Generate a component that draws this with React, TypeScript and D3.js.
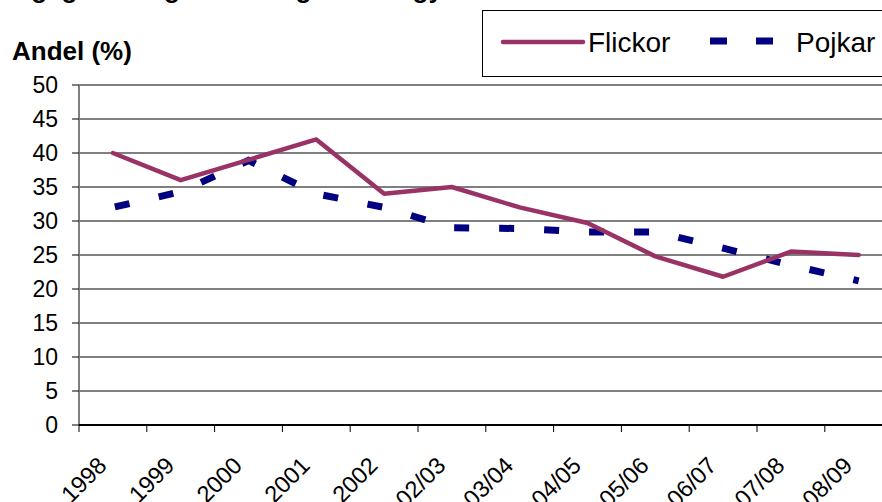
import { useEffect, useRef } from "react";
import * as d3 from "d3";

const W = 882;
const H = 502;

const years = ["1998", "1999", "2000", "2001", "2002", "02/03", "03/04", "04/05", "05/06", "06/07", "07/08", "08/09"];
const flickor = [40, 36, 39, 42, 34, 35, 32, 29.7, 24.8, 21.8, 25.5, 25.0];
const pojkar = [32, 34.3, 38.9, 34, 32, 29, 28.9, 28.4, 28.4, 26, 23.5, 21.2];
const yTicks = [0, 5, 10, 15, 20, 25, 30, 35, 40, 45, 50];

const FLICKOR_COLOR = "#993366";
const POJKAR_COLOR = "#000080";
const FONT = "Arial, 'Liberation Sans', sans-serif";

export default function App() {
  const ref = useRef<SVGSVGElement>(null);

  useEffect(() => {
    const el = ref.current;
    if (!el) return;
    const svg = d3.select(el);
    svg.selectAll("*").remove();

    const left = 79;
    const step = 67.8;
    const x = d3
      .scaleBand<string>()
      .domain(years)
      .range([left, left + step * years.length])
      .padding(0);
    const y = d3.scaleLinear().domain([0, 50]).range([425, 85]);

    // title, cut by the top edge (only descenders show)
    svg
      .append("text")
      .attr("x", -2)
      .attr("y", -2)
      .attr("font-family", FONT)
      .attr("font-weight", 700)
      .attr("font-size", 26)
      .text("Daglig rökning bland ungdomar i gymnasiet");

    // gridlines
    svg
      .append("g")
      .selectAll("line")
      .data(yTicks.filter((d) => d > 0 && d < 50))
      .join("line")
      .attr("x1", left)
      .attr("x2", W)
      .attr("y1", (d) => y(d))
      .attr("y2", (d) => y(d))
      .attr("stroke", "#000")
      .attr("stroke-width", 1.2);

    // plot top border
    svg
      .append("line")
      .attr("x1", left)
      .attr("x2", W)
      .attr("y1", y(50))
      .attr("y2", y(50))
      .attr("stroke", "#808080")
      .attr("stroke-width", 2);

    // y axis
    const yAxis = svg.append("g").attr("transform", `translate(${left},0)`);
    yAxis
      .append("line")
      .attr("y1", y(50))
      .attr("y2", y(0))
      .attr("stroke", "#808080")
      .attr("stroke-width", 2);
    yAxis
      .selectAll("line.tick")
      .data(yTicks)
      .join("line")
      .attr("class", "tick")
      .attr("x1", -7)
      .attr("x2", 0)
      .attr("y1", (d) => y(d))
      .attr("y2", (d) => y(d))
      .attr("stroke", "#000");
    yAxis
      .selectAll("text")
      .data(yTicks)
      .join("text")
      .attr("x", -21)
      .attr("y", (d) => y(d))
      .attr("dy", "0.36em")
      .attr("text-anchor", "end")
      .attr("font-family", FONT)
      .attr("font-size", 23)
      .text((d) => d);

    svg
      .append("text")
      .attr("x", 12)
      .attr("y", 60)
      .attr("font-family", FONT)
      .attr("font-weight", 700)
      .attr("font-size", 26)
      .text("Andel (%)");

    // x axis
    const xAxis = svg.append("g");
    xAxis
      .append("line")
      .attr("x1", left)
      .attr("x2", W)
      .attr("y1", y(0))
      .attr("y2", y(0))
      .attr("stroke", "#000")
      .attr("stroke-width", 2);
    xAxis
      .selectAll("line.tick")
      .data(years)
      .join("line")
      .attr("class", "tick")
      .attr("x1", (d) => x(d)!)
      .attr("x2", (d) => x(d)!)
      .attr("y1", y(0))
      .attr("y2", y(0) + 7)
      .attr("stroke", "#000");
    const cx = (d: string) => x(d)! + x.bandwidth() / 2;
    xAxis
      .selectAll("text")
      .data(years)
      .join("text")
      .attr("transform", (d) => `translate(${cx(d) - 5},467) rotate(-45)`)
      .attr("text-anchor", "end")
      .attr("font-family", FONT)
      .attr("font-size", 23.5)
      .text((d) => d);

    const line = d3
      .line<number>()
      .x((_, i) => cx(years[i]))
      .y((d) => y(d));

    svg
      .append("path")
      .attr("d", line(pojkar))
      .attr("fill", "none")
      .attr("stroke", POJKAR_COLOR)
      .attr("stroke-width", 7)
      .attr("stroke-dasharray", "15,30")
      .attr("stroke-dashoffset", -2);

    svg
      .append("path")
      .attr("d", line(flickor))
      .attr("fill", "none")
      .attr("stroke", FLICKOR_COLOR)
      .attr("stroke-width", 4.5)
      .attr("stroke-linejoin", "round")
      .attr("stroke-linecap", "round");

    // legend
    const lg = svg.append("g");
    lg.append("rect")
      .attr("x", 482.5)
      .attr("y", 10.5)
      .attr("width", 420)
      .attr("height", 66)
      .attr("fill", "#fff")
      .attr("stroke", "#000");
    lg.append("line")
      .attr("x1", 503)
      .attr("x2", 583)
      .attr("y1", 42)
      .attr("y2", 42)
      .attr("stroke", FLICKOR_COLOR)
      .attr("stroke-width", 4.5)
      .attr("stroke-linecap", "round");
    lg.append("text")
      .attr("x", 588)
      .attr("y", 52)
      .attr("font-family", FONT)
      .attr("font-size", 28)
      .text("Flickor");
    lg.append("line")
      .attr("x1", 710)
      .attr("x2", 773)
      .attr("y1", 41)
      .attr("y2", 41)
      .attr("stroke", POJKAR_COLOR)
      .attr("stroke-width", 7)
      .attr("stroke-dasharray", "17,29");
    lg.append("text")
      .attr("x", 796)
      .attr("y", 52)
      .attr("font-family", FONT)
      .attr("font-size", 28)
      .text("Pojkar");
  }, []);

  return (
    <svg
      ref={ref}
      width={W}
      height={H}
      style={{ position: "fixed", left: 0, top: 0, background: "#fff" }}
    />
  );
}
